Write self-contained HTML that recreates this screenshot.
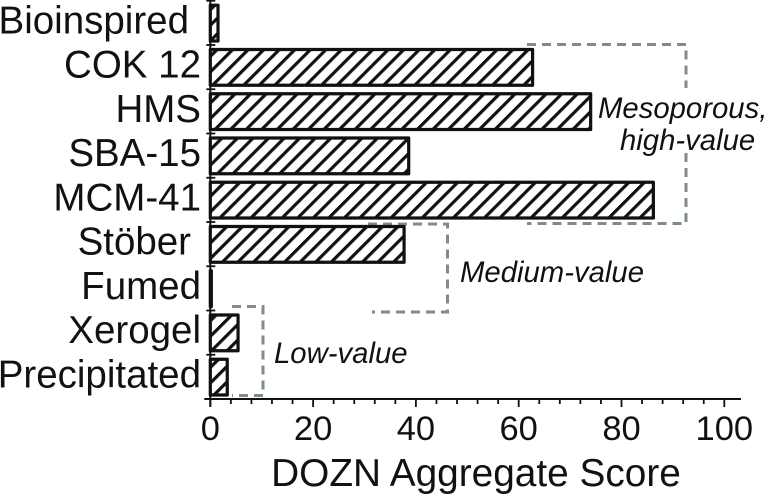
<!DOCTYPE html>
<html>
<head>
<meta charset="utf-8">
<style>
html,body{margin:0;padding:0;background:#fff;}
svg{display:block;font-family:"Liberation Sans",sans-serif;}
</style>
</head>
<body>
<svg id="chart" width="776" height="495" viewBox="0 0 776 495" xmlns="http://www.w3.org/2000/svg">
<defs>
<pattern id="hatch" patternUnits="userSpaceOnUse" width="11" height="11" patternTransform="rotate(45)">
<rect width="11" height="11" fill="#fff"/>
<rect x="0" y="0" width="3.2" height="11" fill="#111"/>
</pattern>
</defs>
<g id="brackets" fill="none" stroke="#7f8c8c" stroke-width="3" stroke-dasharray="9 6">
<path d="M527 44.5H686V88"/>
<path d="M686 153V223.5H527"/>
<path d="M368 224H447.500V312H372"/>
<path d="M232 306.500H263V395.500H232"/>
</g>
<g id="bars"></g>
<g id="axes" stroke="#111" fill="none"></g>
<g id="labels" fill="#111"></g>
<g fill="#111" font-style="italic" font-size="29.300">
<text x="598" y="118">Mesoporous,</text>
<text x="620" y="150">high-value</text>
<text x="460" y="282">Medium-value</text>
<text x="274" y="363">Low-value</text>
</g>
<text x="476" y="486" text-anchor="middle" font-size="38.800" fill="#111">DOZN Aggregate Score</text>
</svg>
<script>
const categories = ["Bioinspired", "COK 12", "HMS", "SBA-15", "MCM-41", "Stöber", "Fumed", "Xerogel", "Precipitated"];
const scores = [1.5, 62.7, 74, 38.6, 86.2, 37.7, 0.2, 5.4, 3.3];
const xTickLabels = [0, 20, 40, 60, 80, 100];
const minorTickValues = [4, 8, 12, 16, 24, 28, 32, 36, 44, 48, 52, 56, 64, 68, 72, 76, 84, 88, 92, 96];

const NS = "http://www.w3.org/2000/svg";
const x0 = 210.3, pxPerUnit = 5.14, axisY = 399, band = 44.25, axisEnd = 741;
const xScale = v => x0 + v * pxPerUnit;
const yScale = i => axisY - (categories.length - i) * band;
function make(tag, parent, attrs) {
  const el = document.createElementNS(NS, tag);
  for (const k in attrs) el.setAttribute(k, attrs[k]);
  parent.appendChild(el);
  return el;
}
const barsG = document.getElementById("bars");
const axesG = document.getElementById("axes");
const labelsG = document.getElementById("labels");

categories.forEach((c, i) => {
  const top = yScale(i) + 4.5;
  const bar = make("rect", barsG, {x: x0, y: top, width: Math.max(scores[i] * pxPerUnit, 0.5), height: band - 8.5, fill: "url(#hatch)", stroke: "#111", "stroke-width": 3.2, "stroke-linejoin": "round"});
  
  
  const lab = make("text", labelsG, {x: (c === "Bioinspired" ? 189 : c === "Stöber" ? 191 : 201), y: yScale(i) + 32.5, "text-anchor": "end", "font-size": 38.5});
  lab.textContent = c;
  
  
  const t = make("line", axesG, {x1: x0 - 4, x2: x0 + 5, y1: yScale(i), y2: yScale(i), "stroke-width": 1.8});
  
  
});

const yAxis = make("line", axesG, {x1: x0, x2: x0, y1: 0, y2: axisY + 8, "stroke-width": 2});


const xAxis = make("line", axesG, {x1: x0 - 6, x2: axisEnd, y1: axisY, y2: axisY, "stroke-width": 2});



minorTickValues.forEach(v => {
  const t = make("line", axesG, {x1: xScale(v), x2: xScale(v), y1: axisY, y2: axisY + 5, "stroke-width": 1.8});
  
  
});
xTickLabels.forEach(v => {
  const t = make("line", axesG, {x1: xScale(v), x2: xScale(v), y1: axisY, y2: axisY + 8, "stroke-width": 1.8});
  
  
  const lab = make("text", labelsG, {x: xScale(v), y: 440, "text-anchor": "middle", "font-size": 34.5});
  lab.textContent = v;
  
  
});
</script>
</body>
</html>
